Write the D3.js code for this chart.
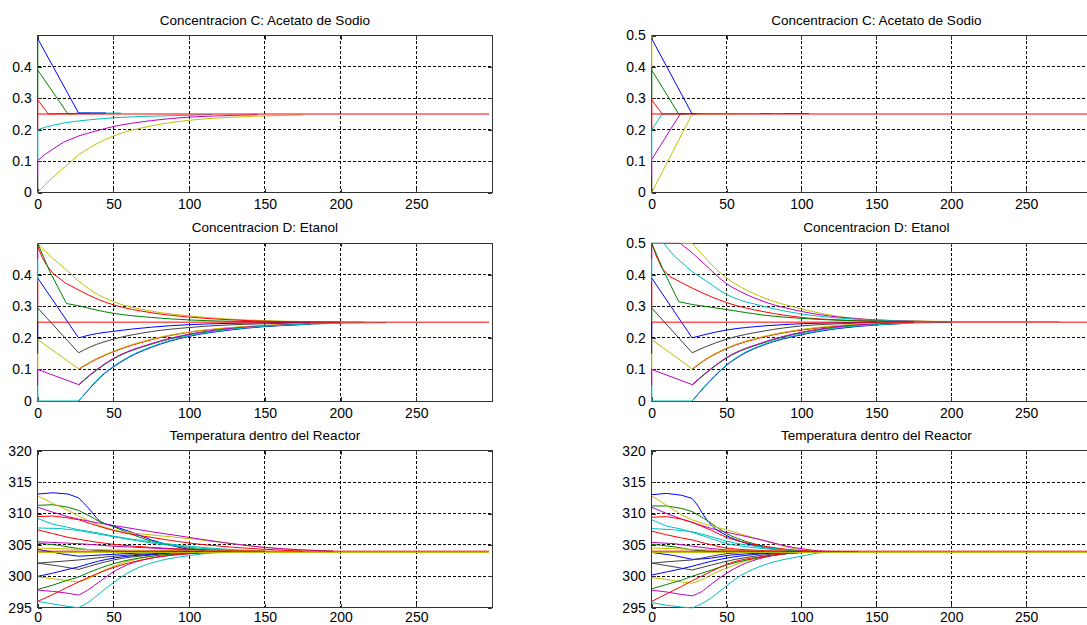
<!DOCTYPE html>
<html><head><meta charset="utf-8">
<script src="https://cdn.jsdelivr.net/npm/d3@7"></script>
<style>
html,body{margin:0;padding:0;background:#fff;overflow:hidden}
svg{display:block}
</style></head><body>
<svg id="chart" width="1087" height="625"></svg>
<script>
// ---------------- DATA ----------------
const KNEE = 27;                       // time where the inlet switches (sharp corner)
const xDomain = [0, 300];
const xTicks = [0, 50, 100, 150, 200, 250];
const concTicksLeft = [0, 0.1, 0.2, 0.3, 0.4];
const concTicksRight = [0, 0.1, 0.2, 0.3, 0.4, 0.5];
const tempTicks = [295, 300, 305, 310, 315, 320];
const titles = ["Concentracion C: Acetato de Sodio", "Concentracion D: Etanol", "Temperatura dentro del Reactor"];
// MATLAB default colour order: b g r c m y k(dark gray)
const palette = ["#0000ff", "#008000", "#ff0000", "#00bfbf", "#bf00bf", "#bfbf00", "#404040"];

// Concentracion C, left
const cLeft = [
  [[0,0.295],[7,0.25],[27,0.252]],
  [[0,0.39],[20,0.25],[27,0.252],[35,0.252]],
  [[27,0.253],[55,0.253]],
  [[0,0.49],[27,0.253],[45,0.253]],
  [[0,0.2],[5,0.208],[10,0.214],[18,0.222],[27,0.228],[50,0.238],[75,0.243],[100,0.246],[115,0.248]],
  [[0,0.102],[5,0.122],[10,0.138],[17,0.16],[27,0.18],[50,0.21],[75,0.229],[100,0.24],[125,0.245],[145,0.248]],
  [[0,0],[5,0.025],[10,0.048],[15,0.07],[20,0.09],[27,0.12],[40,0.158],[50,0.18],[75,0.212],[100,0.23],[125,0.239],[150,0.244],[175,0.247]],
  [[0,0.25],[298,0.25]]
];
const cLeftColors = [2,1,3,0,3,4,5,2];
const cLeftStarts = [[0.5,0.4],[0.4,0.3],[0.3,0.2],[0.2,0.1],[0.1,0.05],[0.05,0]];
const cLeftStartColors = [1,1,2,3,4,6];

// Concentracion C, right
const cRight = [
  [[0,0.295],[7,0.25],[27,0.2515],[105,0.2515]],
  [[0,0.2],[7,0.25],[27,0.2515],[88,0.2515]],
  [[0,0.105],[19,0.25],[27,0.2515],[80,0.2515]],
  [[0,0],[27,0.25],[72,0.2515]],
  [[0,0.39],[18,0.25],[27,0.2515],[30,0.2515]],
  [[0,0.49],[27,0.25],[30,0.2515]],
  [[0,0.25],[300,0.25]]
];
const cRightColors = [2,3,4,5,1,0,2];
const cRightStarts = [[0.5,0.4],[0.4,0.3],[0.3,0.2],[0.2,0.1],[0.1,0.05],[0.05,0]];
const cRightStartColors = [5,1,2,3,4,6];

// Concentracion D, left
const dLeft = [
  [[0,0.5],[5,0.475],[10,0.452],[18,0.42],[27,0.38],[40,0.337],[50,0.315],[75,0.285],[100,0.27],[125,0.26],[150,0.255],[175,0.252],[216,0.251]],
  [[0,0.49],[3,0.455],[6,0.43],[10,0.405],[18,0.375],[27,0.352],[40,0.322],[50,0.305],[75,0.28],[100,0.266],[125,0.258],[150,0.253],[175,0.251],[200,0.25]],
  [[0,0.5],[8,0.41],[19,0.309],[27,0.302],[50,0.278],[75,0.265],[100,0.257],[125,0.253],[160,0.251]],
  [[0,0.39],[27,0.2],[35,0.21],[50,0.221],[75,0.234],[100,0.242],[125,0.246],[150,0.248],[180,0.249]],
  [[0,0.295],[27,0.153],[35,0.172],[50,0.196],[75,0.22],[100,0.233],[125,0.241],[150,0.245],[200,0.249]],
  [[27,0.1],[35,0.123],[50,0.156],[75,0.194],[100,0.218],[125,0.231],[150,0.239],[190,0.246]],
  [[0,0.195],[27,0.102],[35,0.125],[50,0.158],[75,0.196],[100,0.219],[125,0.232],[150,0.24],[200,0.247]],
  [[27,0.05],[35,0.083],[50,0.133],[75,0.18],[100,0.21],[125,0.227],[150,0.237],[180,0.244]],
  [[0,0.1],[27,0.052],[35,0.085],[50,0.135],[75,0.182],[100,0.212],[125,0.229],[150,0.238],[200,0.247]],
  [[27,0],[35,0.043],[42,0.078],[50,0.108],[60,0.138],[75,0.17],[100,0.205],[125,0.224],[150,0.236],[180,0.243]],
  [[0,0],[27,0],[35,0.045],[42,0.08],[50,0.11],[60,0.14],[75,0.172],[100,0.207],[125,0.226],[150,0.237],[180,0.244],[230,0.248]],
  [[0,0.25],[298,0.25]]
];
const dLeftColors = [5,2,1,0,6,2,5,1,4,0,3,2];
const dLeftStarts = [[0.5,0.45],[0.45,0.38],[0.38,0.3],[0.3,0.25],[0.25,0.2],[0.2,0.15],[0.15,0.1],[0.1,0.05],[0.05,0]];
const dLeftStartColors = [4,3,2,1,0,6,5,4,3];

// Concentracion D, right
const dRight = [
  [[0,0.5],[27,0.5],[35,0.458],[40,0.432],[50,0.39],[60,0.36],[75,0.327],[100,0.292],[125,0.268],[150,0.257],[175,0.254],[200,0.252],[272,0.252]],
  [[0,0.5],[19,0.5],[27,0.47],[35,0.435],[50,0.372],[60,0.345],[75,0.315],[100,0.284],[125,0.266],[150,0.257],[175,0.253],[200,0.251]],
  [[0,0.5],[8,0.5],[15,0.46],[27,0.41],[35,0.385],[50,0.338],[75,0.3],[100,0.276],[125,0.263],[150,0.256],[200,0.251]],
  [[0,0.5],[3,0.46],[7,0.42],[12,0.395],[20,0.375],[27,0.358],[40,0.33],[50,0.312],[75,0.283],[100,0.265],[125,0.257],[150,0.253],[175,0.251]],
  [[0,0.5],[8,0.412],[18,0.315],[27,0.306],[50,0.29],[75,0.272],[100,0.262],[125,0.256],[150,0.253],[175,0.251]],
  [[0,0.39],[27,0.2],[35,0.21],[50,0.225],[75,0.238],[100,0.245],[125,0.248],[150,0.25]],
  [[0,0.295],[27,0.153],[35,0.17],[50,0.196],[75,0.222],[100,0.238],[125,0.245],[150,0.248],[175,0.25]],
  [[27,0.1],[35,0.128],[50,0.166],[75,0.203],[100,0.225],[125,0.238],[150,0.245],[170,0.248]],
  [[0,0.195],[27,0.102],[35,0.13],[50,0.168],[75,0.205],[100,0.227],[125,0.24],[150,0.246],[175,0.249]],
  [[27,0.05],[35,0.083],[50,0.136],[75,0.185],[100,0.216],[125,0.234],[150,0.243],[170,0.247]],
  [[0,0.1],[27,0.052],[35,0.085],[50,0.138],[75,0.187],[100,0.218],[125,0.236],[150,0.244],[175,0.248]],
  [[27,0],[35,0.043],[42,0.078],[50,0.113],[60,0.146],[75,0.178],[100,0.21],[125,0.23],[150,0.241],[170,0.246]],
  [[0,0],[27,0],[35,0.045],[42,0.08],[50,0.115],[60,0.148],[75,0.18],[100,0.212],[125,0.232],[150,0.242],[175,0.247],[200,0.249]],
  [[0,0.25],[300,0.25]]
];
const dRightColors = [5,4,3,2,1,0,6,2,5,1,4,0,3,2];
const dRightStarts = [[0.5,0.45],[0.45,0.38],[0.38,0.3],[0.3,0.25],[0.25,0.2],[0.2,0.15],[0.15,0.1],[0.1,0.05],[0.05,0]];
const dRightStartColors = [4,3,2,1,0,6,5,4,3];

// Temperatura, left
const tLeft = [
  [[0,313.1],[10,313.3],[20,313.1],[27,312.5],[33,311],[41,308.8],[50,308],[60,307.2],[75,305.8],[90,304.8],[100,304.3],[115,304],[130,303.9]],
  [[0,311.3],[10,311.4],[20,311],[27,310.5],[35,309.5],[41,308.7],[50,307.9],[60,306.9],[75,305.6],[90,304.9],[100,304.5],[120,304.1],[140,304]],
  [[0,312.8],[10,311.6],[20,310.5],[27,309.6],[40,308.2],[50,307.4],[75,306.6],[100,306],[125,305.3],[150,304.6],[175,304.2],[195,304]],
  [[0,311],[10,310.2],[20,309.5],[27,309.1],[40,308.5],[50,308.1],[75,307.1],[100,306.2],[125,305.3],[150,304.6],[175,304.2],[195,304]],
  [[0,309.5],[10,309.6],[20,309.3],[27,309],[40,308],[50,307.3],[75,306.2],[100,305.3],[125,304.7],[150,304.3],[175,304]],
  [[0,309.2],[10,308.3],[20,307.8],[27,307.4],[40,306.9],[50,306.4],[75,305.5],[100,304.8],[125,304.3],[150,304]],
  [[0,307.7],[15,307.6],[27,307.3],[50,306.3],[75,305.3],[100,304.6],[125,304.2],[140,304]],
  [[0,307.4],[10,306.8],[20,306.2],[27,305.9],[40,305.4],[50,305.1],[75,304.6],[100,304.3],[125,304.1],[150,304]],
  [[0,305.5],[27,305.2],[50,304.8],[75,304.5],[100,304.2],[125,304]],
  [[0,305.3],[15,304.9],[27,304.4],[50,304],[75,303.9],[100,303.9]],
  [[0,304.5],[27,304.3],[50,304.2],[100,304.1],[150,304]],
  [[0,304.3],[15,303.6],[27,303.2],[50,303.5],[75,303.8],[100,304]],
  [[0,302.1],[27,302.6],[50,303.2],[75,303.6],[100,303.9]],
  [[0,302.1],[15,301.6],[27,301.1],[40,302],[50,302.6],[75,303.4],[100,303.8],[120,303.9]],
  [[0,300],[10,300.5],[20,301.1],[27,301.5],[40,302.4],[50,302.9],[75,303.5],[100,303.9],[110,304]],
  [[0,299.9],[10,299.6],[20,299.3],[27,299.1],[35,299.8],[41,300.6],[50,301.6],[60,302.4],[75,303.2],[100,303.7],[125,303.9]],
  [[0,297.9],[10,298.6],[20,299.4],[27,299.9],[40,301.2],[50,302],[75,303.2],[100,303.7],[125,303.9]],
  [[0,297.8],[10,297.6],[20,297.3],[27,297],[33,297.8],[40,299],[50,300.7],[60,301.9],[75,302.9],[100,303.6],[125,303.9]],
  [[0,296],[10,297.1],[20,298.3],[27,299.1],[40,300.5],[50,301.4],[75,302.9],[100,303.6],[125,303.9]],
  [[0,296],[10,295.6],[20,295.2],[27,295],[33,295.8],[41,297.3],[50,299],[63,301],[75,302.1],[100,303.3],[115,303.7],[140,303.9]],
  [[0,303.8],[298,303.8]],
  [[0,304],[298,304]]
];
const tLeftColors = [0,1,5,4,2,3,3,2,4,1,5,0,6,6,0,5,1,4,2,3,5,2];

// Temperatura, right
const tRight = [
  [[0,313],[10,313.2],[20,312.9],[27,312.4],[30,311.5],[35,309.6],[40,308.1],[50,306.5],[60,305.5],[75,304.6],[100,304],[115,303.9]],
  [[0,311.2],[10,311.2],[20,310.8],[27,310.3],[35,309.2],[40,308.4],[50,306.8],[60,305.8],[75,304.8],[100,304],[110,303.9]],
  [[0,312.8],[10,311.3],[20,309.8],[27,309],[40,308],[50,307.4],[60,306.7],[75,305.7],[85,305],[100,304.2],[110,304]],
  [[0,311],[10,310],[20,309.1],[27,308.6],[40,307.6],[50,307],[60,306.5],[75,305.7],[90,304.8],[100,304.4],[115,304],[138,303.9]],
  [[0,309.4],[10,309.5],[20,309.1],[27,308.6],[40,307.3],[50,306.2],[60,305.5],[75,304.8],[90,304.3],[105,304]],
  [[0,309],[10,308],[20,307.5],[27,307],[40,306],[50,305.2],[60,304.8],[75,304.4],[90,304.1],[105,303.9]],
  [[0,307.6],[15,307.4],[27,307.1],[40,306.3],[50,305.6],[75,304.6],[100,304]],
  [[0,307.2],[10,306.6],[20,306.1],[27,305.8],[40,305],[50,304.5],[75,304.1],[100,303.9]],
  [[0,305.4],[15,305.2],[27,304.8],[50,304.2],[75,304],[100,303.9]],
  [[0,305.1],[15,304.7],[27,304.2],[50,303.9],[75,303.9]],
  [[0,304.5],[27,304.3],[50,304.1],[90,304]],
  [[0,303.8],[15,303.3],[27,302.7],[40,302.9],[50,303.3],[75,303.7],[100,303.9]],
  [[0,302.1],[15,302.4],[27,302.6],[40,303.2],[50,303.6],[75,303.9]],
  [[0,302.1],[15,301.5],[27,301],[40,301.8],[50,302.4],[75,303.4],[100,303.9]],
  [[0,300.2],[10,300.7],[20,301.2],[27,301.6],[40,302.4],[50,302.9],[75,303.6],[100,303.9]],
  [[0,299.8],[10,299.5],[20,299.1],[27,298.9],[35,299.6],[41,300.4],[50,301.3],[60,302.2],[75,303.1],[100,303.8],[110,303.9]],
  [[0,298],[10,298.7],[20,299.4],[27,300],[40,301],[50,301.8],[75,303.1],[100,303.8],[110,303.9]],
  [[0,297.8],[10,297.5],[20,297.1],[27,296.9],[33,297.5],[40,298.8],[50,300.5],[60,301.8],[75,303],[100,303.8],[110,303.9]],
  [[0,296],[10,297.2],[20,298.4],[27,299.3],[40,300.8],[50,301.9],[75,303.2],[100,303.8],[110,303.9]],
  [[0,295.8],[10,295.4],[20,295.1],[27,294.95],[33,295.6],[40,296.6],[50,298.5],[60,300.2],[75,301.8],[100,303.2],[115,303.8],[130,303.9]],
  [[0,303.8],[300,303.8]],
  [[0,304],[300,304]]
];
const tRightColors = [0,1,5,4,2,3,3,2,4,1,5,0,6,6,0,5,1,4,2,3,5,2];

// ---------------- LAYOUT ----------------
const colX = [[37.7, 492], [651.7, 1101]];
const rowY = [[35.5, 192.5], [243.3, 401], [450.7, 607.7]];
const rowLabelPad = [7, 7, 4];
const FONT = '"Liberation Sans", Arial, Helvetica, sans-serif';

const panels = [
  {r:0,c:0,series:cLeft,colors:cLeftColors,starts:cLeftStarts,startColors:cLeftStartColors,dom:[0,0.5],ticks:concTicksLeft,title:titles[0]},
  {r:0,c:1,series:cRight,colors:cRightColors,starts:cRightStarts,startColors:cRightStartColors,dom:[0,0.5],ticks:concTicksRight,title:titles[0]},
  {r:1,c:0,series:dLeft,colors:dLeftColors,starts:dLeftStarts,startColors:dLeftStartColors,dom:[0,0.5],ticks:concTicksLeft,title:titles[1]},
  {r:1,c:1,series:dRight,colors:dRightColors,starts:dRightStarts,startColors:dRightStartColors,dom:[0,0.5],ticks:concTicksRight,title:titles[1]},
  {r:2,c:0,series:tLeft,colors:tLeftColors,starts:[],startColors:[],dom:[295,320],ticks:tempTicks,title:titles[2]},
  {r:2,c:1,series:tRight,colors:tRightColors,starts:[],startColors:[],dom:[295,320],ticks:tempTicks,title:titles[2]}
];

const svg = d3.select('#chart');
svg.append('rect').attr('width',1087).attr('height',625).attr('fill','#fff');
const defs = svg.append('defs');

panels.forEach((p, i) => {
  const [x0, x1] = colX[p.c];
  const [y0, y1] = rowY[p.r];
  const x = d3.scaleLinear().domain(xDomain).range([x0, x1]);
  const y = d3.scaleLinear().domain(p.dom).range([y1, y0]);
  const g = svg.append('g');

  // grid
  g.append('g').selectAll('line').data(xTicks).join('line')
    .attr('x1', d => x(d)).attr('x2', d => x(d)).attr('y1', y0).attr('y2', y1)
    .attr('stroke', '#000').attr('stroke-dasharray', '3,2').attr('shape-rendering', 'crispEdges');
  g.append('g').selectAll('line').data(p.ticks).join('line')
    .attr('y1', d => y(d)).attr('y2', d => y(d)).attr('x1', x0).attr('x2', x1)
    .attr('stroke', '#000').attr('stroke-dasharray', '3,2').attr('shape-rendering', 'crispEdges');

  // frame
  g.append('rect').attr('x', x0).attr('y', y0).attr('width', x1 - x0).attr('height', y1 - y0)
    .attr('fill', 'none').attr('stroke', '#333').attr('shape-rendering', 'crispEdges');

  const styleAxis = sel => {
    sel.select('.domain').remove();
    sel.selectAll('line').attr('stroke', '#333').attr('shape-rendering', 'crispEdges');
    sel.selectAll('text').attr('font-family', FONT).attr('font-size', 14).attr('fill', '#000');
  };
  g.append('g').attr('transform', `translate(0,${y1})`)
    .call(d3.axisBottom(x).tickValues(xTicks).tickSize(-4).tickPadding(rowLabelPad[p.r]).tickFormat(d3.format('d')))
    .call(styleAxis);
  g.append('g').attr('transform', `translate(0,${y0})`)
    .call(d3.axisTop(x).tickValues(xTicks).tickSize(-4).tickFormat(''))
    .call(styleAxis);
  g.append('g').attr('transform', `translate(${x0},0)`)
    .call(d3.axisLeft(y).tickValues(p.ticks).tickSize(-4).tickPadding(6).tickFormat(d => String(d)))
    .call(styleAxis);
  g.append('g').attr('transform', `translate(${x1},0)`)
    .call(d3.axisRight(y).tickValues(p.ticks).tickSize(-4).tickFormat(''))
    .call(styleAxis);

  // title
  g.append('text').attr('x', (x0 + x1) / 2).attr('y', y0 - 11)
    .attr('text-anchor', 'middle').attr('font-family', FONT).attr('font-size', 13.5)
    .text(p.title);

  // data
  const clipId = 'clip' + i;
  defs.append('clipPath').attr('id', clipId).append('rect')
    .attr('x', x0 - 1).attr('y', y0 - 1).attr('width', x1 - x0 + 2).attr('height', y1 - y0 + 2);
  const dg = g.append('g').attr('clip-path', `url(#${clipId})`).attr('fill', 'none').attr('stroke-width', 1);

  dg.selectAll('line.start').data(p.starts).join('line').attr('class', 'start')
    .attr('x1', x(0)).attr('x2', x(0)).attr('y1', d => y(d[0])).attr('y2', d => y(d[1]))
    .attr('stroke', (d, j) => palette[p.startColors[j]]).attr('stroke-width', 1.2);

  const lin = d3.line().x(d => x(d[0])).y(d => y(d[1]));
  const smooth = d3.line().curve(d3.curveMonotoneX).x(d => x(d[0])).y(d => y(d[1]));
  p.series.forEach((s, j) => {
    let k = 0;
    s.forEach((d, idx) => { if (d[0] <= KNEE) k = idx; });
    const pre = s.slice(0, k + 1), post = s.slice(k);
    const col = palette[p.colors[j]];
    if (pre.length > 1) dg.append('path').attr('d', lin(pre)).attr('stroke', col);
    if (post.length > 1) dg.append('path').attr('d', smooth(post)).attr('stroke', col);
  });
});
</script>
</body></html>
